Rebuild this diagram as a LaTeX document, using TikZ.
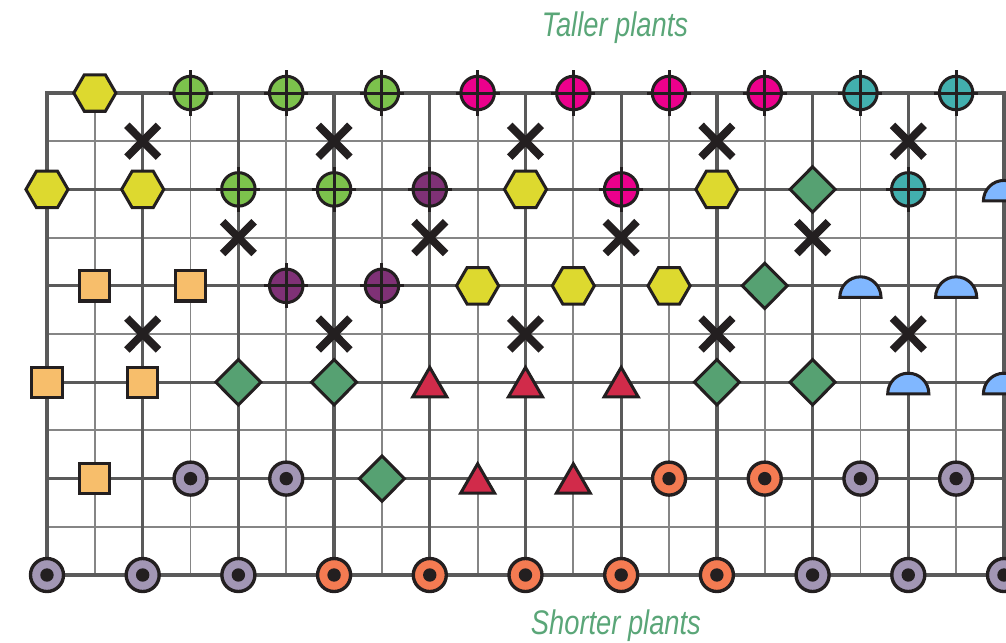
\documentclass[tikz,border=0pt]{standalone}
\usepackage{fontspec}
\newfontfamily\plantfont[FakeStretch=0.8]{Liberation Sans}
\definecolor{hexYellow}{HTML}{DDD92F}
\definecolor{plusGreen}{HTML}{7CC24C}
\definecolor{plusPink}{HTML}{EC008C}
\definecolor{plusTeal}{HTML}{42AFAE}
\definecolor{plusPurple}{HTML}{7F3176}
\definecolor{boxOrange}{HTML}{F7BE6B}
\definecolor{gemGreen}{HTML}{56A172}
\definecolor{triRed}{HTML}{D12B4A}
\definecolor{domeBlue}{HTML}{80B7FF}
\definecolor{dotOrange}{HTML}{F47B52}
\definecolor{dotGrey}{HTML}{A296B4}
\definecolor{inkBlack}{HTML}{231F20}
\definecolor{gridDark}{HTML}{5A5A5A}
\definecolor{gridLight}{HTML}{858585}
\definecolor{labelGreen}{HTML}{5AA678}
\tikzset{
  thin grid/.style={draw=gridLight,line width=1.1pt},
  thick grid/.style={draw=gridDark,line width=2pt,line cap=rect},
  mark line/.style={draw=inkBlack,line width=1.8pt},
  plant label/.style={text=labelGreen,anchor=base,font=\plantfont\itshape\fontsize{20.3}{24}\selectfont},
  hexmark/.pic={\draw[mark line,fill=hexYellow] (0:0.44cm) -- (60:0.44cm) -- (120:0.44cm) -- (180:0.44cm) -- (240:0.44cm) -- (300:0.44cm) -- cycle;},
  plusmark/.pic={\draw[mark line,fill=#1] (0,0) circle[radius=0.35cm];
    \draw[mark line] (-0.46,0) -- (0.46,0) (0,-0.47) -- (0,0.47);},
  dotmark/.pic={\draw[mark line,line width=2pt,fill=#1] (0,0) circle[radius=0.345cm];
    \fill[inkBlack] (0,0) circle[radius=0.14cm];},
  boxmark/.pic={\draw[mark line,fill=boxOrange] (-0.315,-0.315) rectangle (0.315,0.315);},
  gemmark/.pic={\draw[mark line,fill=gemGreen] (0.47,0) -- (0,0.47) -- (-0.47,0) -- (0,-0.47) -- cycle;},
  trimark/.pic={\draw[mark line,fill=triRed,yshift=-0.1cm] (90:0.41cm) -- (210:0.41cm) -- (330:0.41cm) -- cycle;},
  domemark/.pic={\draw[mark line,fill=domeBlue] (-0.43,-0.24) arc[start angle=180,end angle=0,radius=0.43cm] -- cycle;},
  crossmark/.pic={\draw[inkBlack,line width=4.6pt] (-0.33,-0.33) -- (0.33,0.33) (-0.33,0.33) -- (0.33,-0.33);},
}
\begin{document}
\begin{tikzpicture}[x=1cm,y=1.0073cm]
\useasboundingbox (-0.982,-1.39) rectangle (20.042,11.93);
\clip (-0.982,-1.39) rectangle (20.042,11.93);
% grid
\foreach \c in {1,3,...,19} \draw[thin grid] (\c,0) -- (\c,10);
\foreach \r in {1,3,...,9} \draw[thin grid] (0,\r) -- (20.1,\r);
\foreach \c in {0,2,...,20} \draw[thick grid] (\c,0) -- (\c,10);
\foreach \r in {0,2,...,10} \draw[thick grid] (0,\r) -- (20.1,\r);
% markers, given as column/row from the top
\foreach \c/\r in {1/0,0/2,2/2,10/2,14/2,9/4,11/4,13/4} \pic at (\c,{10-\r}) {hexmark};
\foreach \c/\r in {3/0,5/0,7/0,4/2,6/2} \pic at (\c,{10-\r}) {plusmark=plusGreen};
\foreach \c/\r in {9/0,11/0,13/0,15/0,12/2} \pic at (\c,{10-\r}) {plusmark=plusPink};
\foreach \c/\r in {17/0,19/0,18/2} \pic at (\c,{10-\r}) {plusmark=plusTeal};
\foreach \c/\r in {8/2,5/4,7/4} \pic at (\c,{10-\r}) {plusmark=plusPurple};
\foreach \c/\r in {16/2,15/4,4/6,6/6,14/6,16/6,7/8} \pic at (\c,{10-\r}) {gemmark};
\foreach \c/\r in {20/2,17/4,19/4,18/6,20/6} \pic at (\c,{10-\r}) {domemark};
\foreach \c/\r in {1/4,3/4,0/6,2/6,1/8} \pic at (\c,{10-\r}) {boxmark};
\foreach \c/\r in {8/6,10/6,12/6,9/8,11/8} \pic at (\c,{10-\r}) {trimark};
\foreach \c/\r in {3/8,5/8,17/8,19/8,0/10,2/10,4/10,16/10,18/10,20/10} \pic at (\c,{10-\r}) {dotmark=dotGrey};
\foreach \c/\r in {13/8,15/8,6/10,8/10,10/10,12/10,14/10} \pic at (\c,{10-\r}) {dotmark=dotOrange};
\foreach \c in {2,6,10,14,18} {\pic at (\c,9) {crossmark}; \pic at (\c,5) {crossmark};}
\foreach \c in {4,8,12,16} \pic at (\c,7) {crossmark};
% labels
\node[plant label] (taller) at (11.87,11.18) {Taller plants};
\node[plant label] (shorter) at (11.89,-1.224) {Shorter plants};
\end{tikzpicture}
\end{document}
